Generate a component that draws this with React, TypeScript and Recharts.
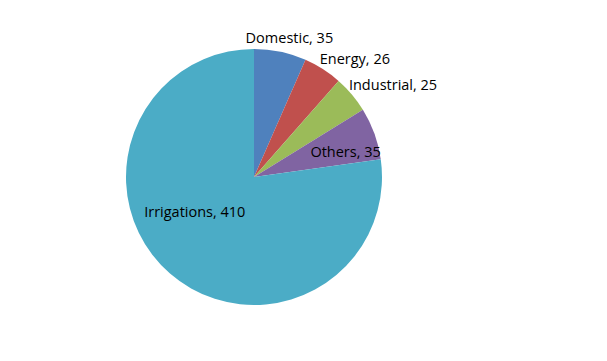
import React from "react";
import { PieChart, Pie, Cell } from "recharts";

const categories = ["Domestic", "Energy", "Industrial", "Others", "Irrigations"];
const values = [35, 26, 25, 35, 410];
const colors = ["#4F81BD", "#C0504D", "#9BBB59", "#8064A2", "#4BACC6"];
// label placement: radius from centre and horizontal shift
const labelRadius = [143, 141, 144, 74, 46];
const labelShift = [6, 25, 29, 22, -29];

const data = categories.map((name, i) => ({ name, value: values[i] }));
const RAD = Math.PI / 180;

const renderLabel = (props: any) => {
  const { cx, cy, midAngle, index } = props;
  const r = labelRadius[index];
  const x = cx + r * Math.cos(-midAngle * RAD) + labelShift[index];
  const y = cy + r * Math.sin(-midAngle * RAD);
  return (
    <text
      x={x}
      y={y}
      textAnchor="middle"
      dominantBaseline="central"
      fill="#000"
      fontSize={14.5}
      fontFamily="'Open Sans', sans-serif"
    >
      {`${data[index].name}, ${data[index].value}`}
    </text>
  );
};

export default function App() {
  return (
    <div style={{ position: "absolute", left: 0, top: 0, background: "#fff" }}>
      <PieChart width={607} height={361} margin={{ top: 0, right: 0, bottom: 0, left: 0 }}>
        <Pie
          data={data}
          dataKey="value"
          cx={254}
          cy={177}
          outerRadius={128}
          startAngle={90}
          endAngle={-270}
          stroke="none"
          label={renderLabel}
          labelLine={false}
          isAnimationActive={false}
        >
          {data.map((d, i) => (
            <Cell key={d.name} fill={colors[i]} />
          ))}
        </Pie>
      </PieChart>
    </div>
  );
}
